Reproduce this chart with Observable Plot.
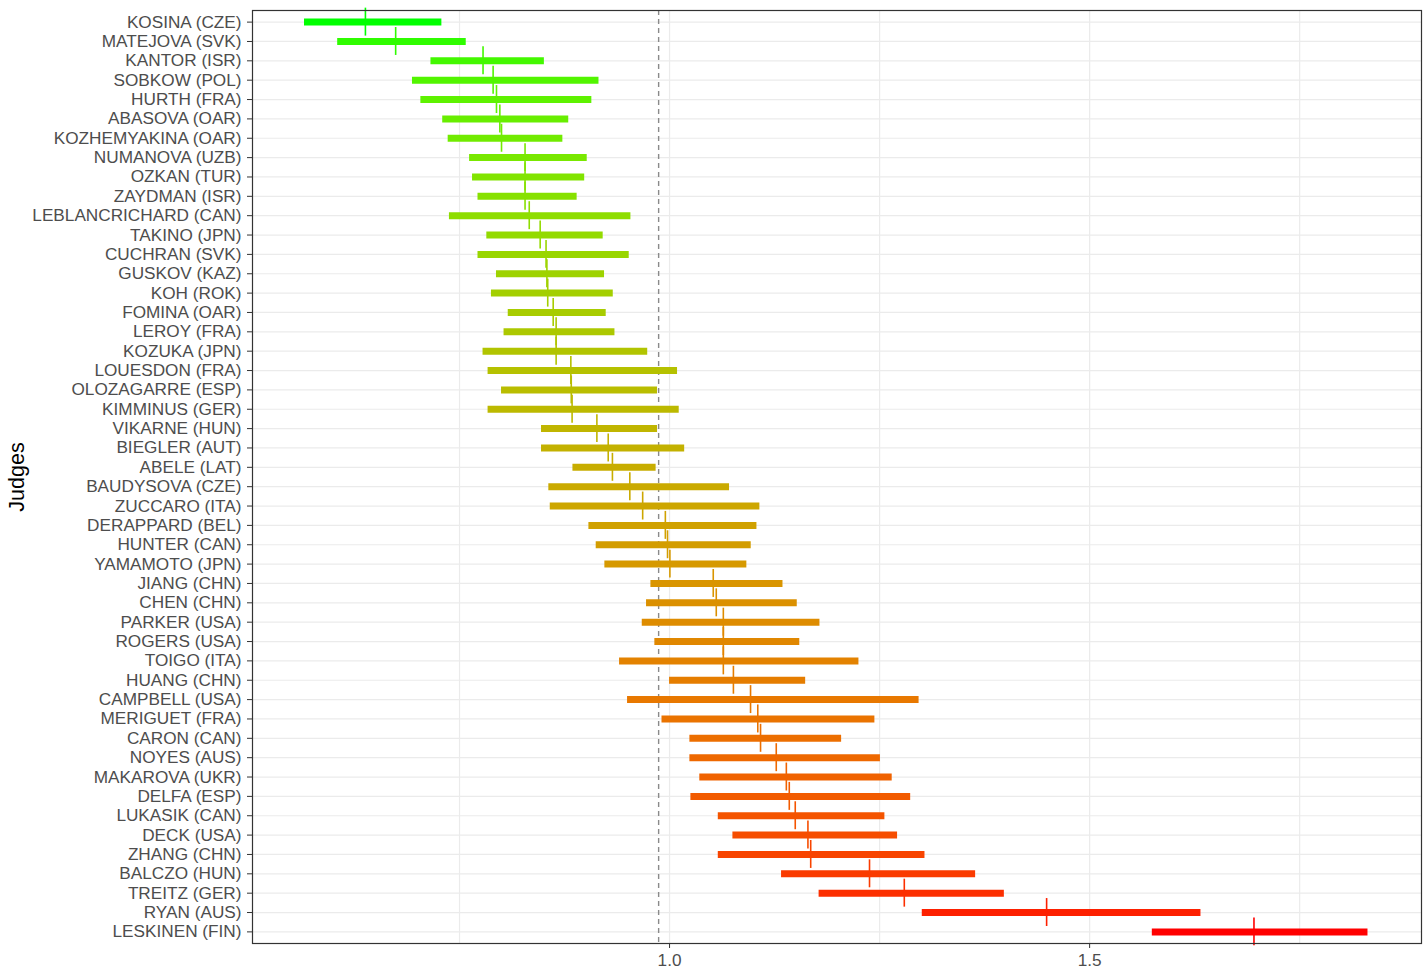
<!DOCTYPE html>
<html><head><meta charset="utf-8">
<script src="https://cdn.jsdelivr.net/npm/d3@7"></script>
<script src="https://cdn.jsdelivr.net/npm/@observablehq/plot@0.6"></script>
<style>body{margin:0;background:#fff} svg{display:block}</style>
</head><body><div id="chart"></div>
<script>
const judges = ["KOSINA (CZE)","MATEJOVA (SVK)","KANTOR (ISR)","SOBKOW (POL)","HURTH (FRA)","ABASOVA (OAR)","KOZHEMYAKINA (OAR)","NUMANOVA (UZB)","OZKAN (TUR)","ZAYDMAN (ISR)","LEBLANCRICHARD (CAN)","TAKINO (JPN)","CUCHRAN (SVK)","GUSKOV (KAZ)","KOH (ROK)","FOMINA (OAR)","LEROY (FRA)","KOZUKA (JPN)","LOUESDON (FRA)","OLOZAGARRE (ESP)","KIMMINUS (GER)","VIKARNE (HUN)","BIEGLER (AUT)","ABELE (LAT)","BAUDYSOVA (CZE)","ZUCCARO (ITA)","DERAPPARD (BEL)","HUNTER (CAN)","YAMAMOTO (JPN)","JIANG (CHN)","CHEN (CHN)","PARKER (USA)","ROGERS (USA)","TOIGO (ITA)","HUANG (CHN)","CAMPBELL (USA)","MERIGUET (FRA)","CARON (CAN)","NOYES (AUS)","MAKAROVA (UKR)","DELFA (ESP)","LUKASIK (CAN)","DECK (USA)","ZHANG (CHN)","BALCZO (HUN)","TREITZ (GER)","RYAN (AUS)","LESKINEN (FIN)"];
const lower = [0.5655,0.605,0.716,0.694,0.704,0.730,0.7365,0.762,0.7655,0.772,0.738,0.7825,0.772,0.794,0.788,0.808,0.803,0.778,0.784,0.800,0.784,0.8476,0.8476,0.885,0.8563,0.858,0.904,0.9127,0.923,0.9778,0.9726,0.9675,0.9825,0.9405,1.000,0.950,0.991,1.0242,1.0242,1.036,1.0254,1.058,1.0754,1.058,1.1333,1.178,1.3008,1.5746];
const upper = [0.729,0.758,0.851,0.916,0.9075,0.880,0.873,0.902,0.899,0.890,0.954,0.921,0.952,0.9226,0.933,0.9246,0.935,0.974,1.0095,0.9857,1.0115,0.9857,1.018,0.984,1.0714,1.1075,1.104,1.0972,1.092,1.135,1.152,1.179,1.155,1.2254,1.162,1.297,1.2444,1.2048,1.251,1.265,1.287,1.2563,1.2714,1.304,1.3643,1.3985,1.6325,1.8313];
const estimate = [0.638,0.674,0.778,0.790,0.794,0.798,0.800,0.828,0.828,0.828,0.833,0.846,0.853,0.854,0.855,0.8615,0.865,0.865,0.8825,0.883,0.884,0.9135,0.927,0.932,0.9527,0.968,0.995,0.9976,1.0004,1.052,1.0556,1.064,1.064,1.064,1.076,1.0964,1.105,1.1083,1.127,1.139,1.1425,1.1496,1.1647,1.168,1.238,1.2794,1.4488,1.6956];
const refLine = 0.987;
const xTicks = [1.0, 1.5];
const xGrid = [0.75, 1.0, 1.25, 1.5, 1.75];
const xDomain = [0.5036, 1.895];
const yTitle = "Judges";

const rows = judges.map((j, i) => ({judge: j, lo: lower[i], hi: upper[i], est: estimate[i], rank: i}));
const font = "'Liberation Sans', Arial, sans-serif";

const chart = Plot.plot({
  width: 1427, height: 970,
  marginLeft: 252, marginRight: 6, marginTop: 10, marginBottom: 27,
  style: {fontFamily: font, fontSize: "17.2px", background: "#fff"},
  x: {domain: xDomain},
  y: {type: "band", domain: judges, paddingInner: 0, paddingOuter: 0.1, round: false},
  color: {type: "linear", domain: [0, judges.length - 1], range: ["#00ff00", "#ff0000"], interpolate: "lab"},
  marks: [
    Plot.ruleX(xGrid, {stroke: "#ebebeb", strokeWidth: 1.2}),
    Plot.ruleY(judges, {stroke: "#ebebeb", strokeWidth: 1.2}),
    Plot.ruleX([refLine], {stroke: "#8a8a8a", strokeDasharray: "5,4", strokeWidth: 1.4}),
    Plot.ruleY(rows, {y: "judge", x1: "lo", x2: "hi", stroke: "rank", strokeWidth: 7}),
    Plot.tickX(rows, {x: "est", y: "judge", stroke: "rank", strokeWidth: 1.6, insetTop: -4.3, insetBottom: -4.3}),
    Plot.frame({stroke: "#333", strokeWidth: 1.2}),
    Plot.axisY({tickSize: 5, tickPadding: 6, label: null, fontSize: 17.2, fill: "#4d4d4d", stroke: "#333"}),
    Plot.axisX({ticks: xTicks, tickFormat: d3.format(".1f"), tickSize: 5, tickPadding: 5, label: null, fontSize: 17.2, fill: "#4d4d4d", stroke: "#333"}),
    Plot.text([yTitle], {text: d => d, frameAnchor: "left", textAnchor: "middle", dx: -235, rotate: -90, fontSize: 21.5, fill: "#000"})
  ]
});
document.getElementById("chart").appendChild(chart);
</script>
</body></html>
